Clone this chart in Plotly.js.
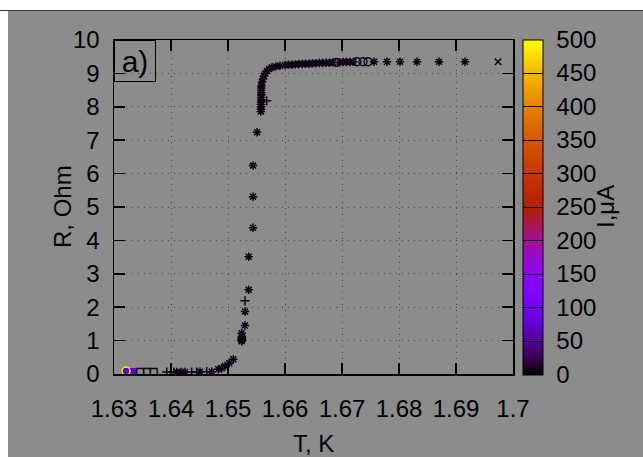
<!DOCTYPE html>
<html>
<head>
<meta charset="utf-8">
<script src="https://cdn.plot.ly/plotly-3.0.1.min.js"></script>
<style>
  html, body { margin: 0; padding: 0; background: #ffffff; }
  #wrap { position: absolute; left: 0; top: 0; width: 643px; height: 457px; background: #ffffff; overflow: hidden; }
  #topline { position: absolute; left: 0; top: 10px; width: 643px; height: 1px; background: #333333; }
  #chart { position: absolute; left: 8px; top: 11px; width: 635px; height: 446px; }
</style>
</head>
<body>
<div id="wrap"><div id="topline"></div><div id="chart"></div></div>
<script>
// ---- data (T in K, R in Ohm, I in microampere) ----
const T_star = [1.64100, 1.64175, 1.64246, 1.64509, 1.64714, 1.64830, 1.64889, 1.64947, 1.65023, 1.65093,
  1.65240, 1.65242, 1.65240, 1.65245, 1.65242, 1.65245, 1.65240,
  1.65298, 1.65298, 1.65363, 1.65363, 1.65439, 1.65439, 1.65439, 1.65509,
  1.65576, 1.65578, 1.65580, 1.65578, 1.65580, 1.65582, 1.65580, 1.65582, 1.65584, 1.65582, 1.65584, 1.65586,
  1.65596, 1.65614, 1.65632, 1.65649, 1.65684, 1.65719, 1.65772, 1.65842, 1.65912, 1.66000,
  1.66060, 1.66120, 1.66180, 1.66240, 1.66300, 1.66360, 1.66420, 1.66480, 1.66540, 1.66600,
  1.66660, 1.66720, 1.66780, 1.66840, 1.66960, 1.67020, 1.67080, 1.67140, 1.67200,
  1.67561, 1.67789, 1.68018, 1.68316, 1.68702, 1.69158];
const R_star = [0.06, 0.06, 0.06, 0.07, 0.07, 0.14, 0.17, 0.24, 0.32, 0.44,
  0.98, 1.01, 1.04, 1.07, 1.10, 1.13, 1.22,
  1.45, 1.87, 2.52, 3.51, 4.38, 5.31, 6.24, 7.24,
  7.86, 7.93, 8.00, 8.07, 8.14, 8.21, 8.28, 8.35, 8.42, 8.49, 8.56, 8.62,
  8.74, 8.83, 8.92, 9.00, 9.07, 9.13, 9.18, 9.21, 9.23, 9.25,
  9.26, 9.26, 9.27, 9.28, 9.28, 9.29, 9.29, 9.30, 9.30, 9.31,
  9.31, 9.32, 9.32, 9.33, 9.33, 9.34, 9.34, 9.34, 9.35,
  9.35, 9.35, 9.35, 9.35, 9.35, 9.35];
const I_star = [6, 6, 6, 6, 6, 6, 6, 6, 6, 6,
  6, 6, 6, 6, 6, 6, 6,
  6, 6, 6, 6, 6, 6, 6, 6,
  6, 6, 6, 6, 6, 6, 6, 6, 6, 6, 6, 6,
  6, 6, 6, 6, 6, 6, 6, 6, 6, 6,
  6, 6, 6, 6, 6, 6, 6, 6, 6, 6,
  6, 6, 6, 6, 6, 6, 6, 6, 6,
  6, 6, 6, 6, 6, 6];

const T_plus = [1.63925, 1.63995, 1.64050, 1.64363, 1.64451, 1.64626, 1.65298, 1.65679];
const R_plus = [0.06, 0.06, 0.06, 0.06, 0.06, 0.07, 2.19, 8.18];
const I_plus = [6, 6, 6, 6, 6, 6, 6, 6];

const T_osq = [1.63461, 1.63579, 1.63696];
const R_osq = [0.06, 0.06, 0.06];
const I_osq = [6, 6, 6];

const T_fsq = [1.63228, 1.63316];
const R_fsq = [0.06, 0.06];
const I_fsq = [75, 75];

const T_ocir = [1.63211, 1.66900, 1.67263, 1.67368, 1.67456];
const R_ocir = [0.09, 9.33, 9.35, 9.35, 9.35];
const I_ocir = [490, 6, 6, 6, 6];

const T_x = [1.69737];
const R_x = [9.35];
const I_x = [6];

const xTickVals = [1.63, 1.64, 1.65, 1.66, 1.67, 1.68, 1.69, 1.70];
const xTickText = ['1.63', '1.64', '1.65', '1.66', '1.67', '1.68', '1.69', '1.7'];
const yTickVals = [0, 1, 2, 3, 4, 5, 6, 7, 8, 9, 10];
const cbTickVals = [0, 50, 100, 150, 200, 250, 300, 350, 400, 450, 500];

// palette (black - purple - red - yellow)
const palette = [
  [0.00, 'rgb(0,0,0)'], [0.05, 'rgb(57,0,79)'], [0.10, 'rgb(81,0,150)'], [0.15, 'rgb(99,1,206)'],
  [0.20, 'rgb(114,2,242)'], [0.25, 'rgb(128,4,255)'], [0.30, 'rgb(140,7,242)'], [0.35, 'rgb(151,11,206)'],
  [0.40, 'rgb(161,16,150)'], [0.45, 'rgb(171,23,79)'], [0.50, 'rgb(180,32,0)'], [0.55, 'rgb(189,42,0)'],
  [0.60, 'rgb(198,55,0)'], [0.65, 'rgb(206,70,0)'], [0.70, 'rgb(213,87,0)'], [0.75, 'rgb(221,108,0)'],
  [0.80, 'rgb(228,131,0)'], [0.85, 'rgb(235,157,0)'], [0.90, 'rgb(242,186,0)'], [0.95, 'rgb(249,219,0)'],
  [1.00, 'rgb(255,255,0)']
];
const clearScale = [[0, 'rgba(0,0,0,0)'], [1, 'rgba(0,0,0,0)']];

const FONT = 'Liberation Sans, Arial, sans-serif';
const BG = '#8c8c8c';

function mk(T, R, I, symbol, size, lw) {
  return {
    type: 'scatter', mode: 'markers', x: T, y: R, showlegend: false, hoverinfo: 'x+y',
    marker: { symbol: symbol, size: size, color: I, coloraxis: 'coloraxis', line: { width: lw } }
  };
}

const traces = [
  mk(T_fsq, R_fsq, I_fsq, 'square', 8, 0),
  mk(T_osq, R_osq, I_osq, 'square-open', 7, 1.3),
  mk(T_plus, R_plus, I_plus, 'cross-thin-open', 6.5, 1.5),
  mk(T_star, R_star, I_star, 'asterisk-open', 7, 1.5),
  mk(T_ocir, R_ocir, I_ocir, 'circle-open', 8, 1.4),
  mk(T_x, R_x, I_x, 'x-thin-open', 6.5, 1.5),
  // carrier for the colour-bar labels (no visible marks)
  { type: 'scatter', mode: 'markers', x: [null], y: [null], showlegend: false, hoverinfo: 'skip',
    marker: { color: [0], coloraxis: 'coloraxis2' } }
];

const axisCommon = {
  showline: true, linecolor: '#000', linewidth: 1.5, mirror: 'ticks',
  ticks: 'inside', ticklen: 11, tickwidth: 1.5, tickcolor: '#000',
  showgrid: true, gridcolor: '#4a4a4a', gridwidth: 1, griddash: '1px,5px',
  zeroline: false, tickfont: { family: FONT, size: 24, color: '#000' }
};

const cbPos = {
  thickness: 20, thicknessmode: 'pixels', len: 335, lenmode: 'pixels',
  x: 1.0243, xanchor: 'left', xpad: 0, y: 0.5, yanchor: 'middle', ypad: 0,
  bgcolor: 'rgba(0,0,0,0)', tickmode: 'array', tickvals: cbTickVals,
  tickfont: { family: FONT, size: 24, color: '#000' }
};

const layout = {
  width: 635, height: 446,
  margin: { l: 106, r: 130, t: 29, b: 83 },
  paper_bgcolor: BG, plot_bgcolor: BG,
  font: { family: FONT, size: 24, color: '#000' },
  xaxis: Object.assign({}, axisCommon, {
    range: [1.63, 1.70], tickmode: 'array', tickvals: xTickVals, ticktext: xTickText,
    ticklabelstandoff: 13
  }),
  yaxis: Object.assign({}, axisCommon, {
    range: [0, 10], tickmode: 'array', tickvals: yTickVals,
    ticklabelstandoff: 8
  }),
  coloraxis: {
    cmin: 0, cmax: 500, colorscale: palette,
    colorbar: Object.assign({}, cbPos, {
      outlinewidth: 1, outlinecolor: '#000',
      ticks: 'inside', ticklen: 20, tickwidth: 1, tickcolor: '#000', showticklabels: false
    })
  },
  coloraxis2: {
    cmin: 0, cmax: 500, colorscale: clearScale,
    colorbar: Object.assign({}, cbPos, {
      outlinewidth: 0, ticks: 'outside', ticklen: 9, tickwidth: 1, tickcolor: 'rgba(0,0,0,0)'
    })
  },
  annotations: [
    {
      xref: 'paper', yref: 'paper', x: 0, y: 1, xanchor: 'left', yanchor: 'top',
      text: 'a)', showarrow: false, font: { family: FONT, size: 30, color: '#000' },
      width: 40, height: 40, align: 'center', valign: 'middle',
      bordercolor: '#000', borderwidth: 1, borderpad: 0
    },
    {
      xref: 'paper', yref: 'paper', x: -0.1303, y: 0.5, xanchor: 'center', yanchor: 'middle',
      text: 'R, Ohm', textangle: -90, showarrow: false, font: { family: FONT, size: 24, color: '#000' }
    },
    {
      xref: 'paper', yref: 'paper', x: 0.5, y: -0.2066, xanchor: 'center', yanchor: 'middle',
      height: 24, valign: 'middle',
      text: 'T, K', showarrow: false, font: { family: FONT, size: 24, color: '#000' }
    },
    {
      xref: 'paper', yref: 'paper', x: 1.2306, y: 0.5, xanchor: 'center', yanchor: 'middle',
      text: 'I,μA', textangle: -90, showarrow: false, font: { family: FONT, size: 24, color: '#000' }
    }
  ]
};

Plotly.newPlot('chart', traces, layout, { displayModeBar: false, staticPlot: true });
</script>
</body>
</html>
